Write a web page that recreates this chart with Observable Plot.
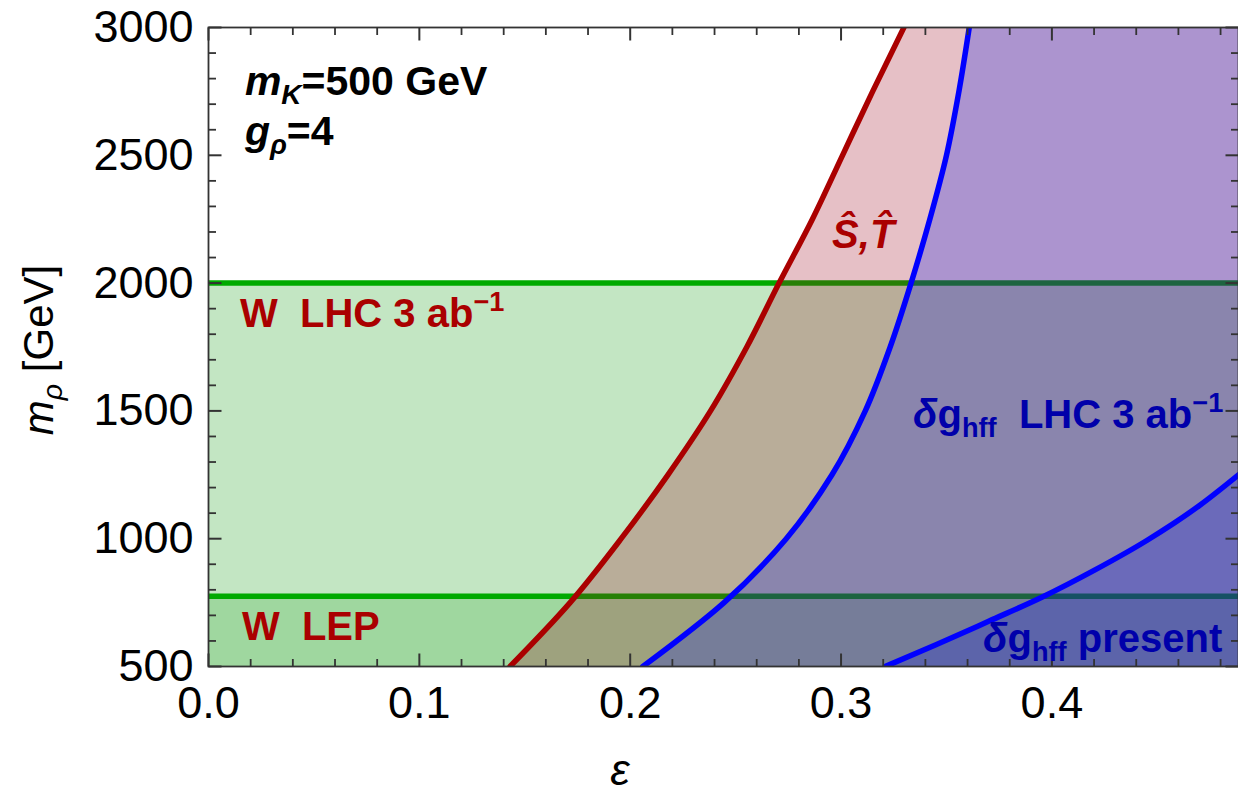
<!DOCTYPE html>
<html>
<head>
<meta charset="utf-8">
<script src="https://cdn.jsdelivr.net/npm/d3@7"></script>
<script src="https://cdn.jsdelivr.net/npm/@observablehq/plot@0.6"></script>
<style>
  html, body { margin: 0; padding: 0; background: #fff; }
  #chart { width: 1238px; height: 800px; }
  svg { font-family: "Liberation Sans", Arial, Helvetica, sans-serif; }
</style>
</head>
<body>
<div id="chart"></div>
<script>
// ---------- data ----------
const epsDomain = [0, 0.4885];
const mDomain = [500, 3000];
const xMajor = [0, 0.1, 0.2, 0.3, 0.4];
const xMinor = [0.02, 0.04, 0.06, 0.08, 0.12, 0.14, 0.16, 0.18, 0.22, 0.24, 0.26, 0.28, 0.32, 0.34, 0.36, 0.38, 0.42, 0.44, 0.46, 0.48];
const yMajor = [500, 1000, 1500, 2000, 2500, 3000];
const yMinor = [600, 700, 800, 900, 1100, 1200, 1300, 1400, 1600, 1700, 1800, 1900, 2100, 2200, 2300, 2400, 2600, 2700, 2800, 2900];

// m_rho grid (GeV) for the two curves given as eps(m)
const mGrid = [500, 750, 1000, 1250, 1500, 1750, 2000, 2250, 2500, 2750, 3000];
// S,T bound (red)
const stEps = [0.143, 0.1715, 0.1957, 0.2179, 0.2381, 0.2553, 0.2706, 0.2864, 0.3007, 0.3150, 0.3298];
// delta g_hff LHC 3 ab^-1 (blue)
const hffLhcEps = [0.206, 0.2445, 0.274, 0.2957, 0.3115, 0.3233, 0.3332, 0.3421, 0.350, 0.3559, 0.3608];
// delta g_hff present (blue), given as m(eps)
const hffPresentEps = [0.321, 0.345, 0.370, 0.395, 0.420, 0.445, 0.470, 0.4885];
const hffPresentM = [500, 585, 677, 770, 876, 993, 1130, 1250];
// W-parameter bounds (green)
const wLhcBound = 2000;
const wLepBound = 775;

const stData = mGrid.map((m, i) => ({m, eps: stEps[i]}));
const lhcData = mGrid.map((m, i) => ({m, eps: hffLhcEps[i]}));
const presData = hffPresentEps.map((e, i) => ({eps: e, m: hffPresentM[i]}));

// annotations: [eps, m] anchor (start, baseline), size and rich-text parts
const annotations = [
  {at: [0.0175, 2734], size: 41, color: "black", parts: [{t: "m", i: true}, {t: "K", i: true, sub: true}, {t: "=500 GeV"}]},
  {at: [0.0175, 2540], size: 41, color: "black", parts: [{t: "g", i: true}, {t: "ρ", i: true, sub: true}, {t: "=4"}]},
  {at: [0.296, 2135], size: 40, color: "red", parts: [{t: "Ŝ,T\u0302", i: true}]},
  {at: [0.0152, 1826], size: 40, color: "red", parts: [{t: "W  LHC 3 ab"}, {t: "−1", sup: true}]},
  {at: [0.0161, 602], size: 40, color: "red", parts: [{t: "W  LEP"}]},
  {at: [0.3344, 1431], size: 40, color: "blue", parts: [{t: "δ", i: true}, {t: "g"}, {t: "hff", sub: true}, {t: "  LHC 3 ab"}, {t: "−1", sup: true}]},
  {at: [0.3676, 555], size: 40, color: "blue", parts: [{t: "δ", i: true}, {t: "g"}, {t: "hff", sub: true}, {t: " present"}]}
];

// ---------- style ----------
const W = 1238, H = 800;
const mL = 208, mR = 0, mT = 27, mB = 134;
const plotW = W - mL - mR, plotH = H - mT - mB;
const C = {
  greenFill: "#0f9b0f", green: "#00aa00",
  redFill: "#9b031b", red: "#aa0000", redText: "#aa0000",
  blueFill: "#000eea", blue: "#0000ff", blueText: "#0000aa",
  frame: "#333333"
};
const FONT = '"Liberation Sans", Arial, Helvetica, sans-serif';
const majorPx = 13, minorPx = 7.5;
const yPerPx = (mDomain[1] - mDomain[0]) / plotH;
const xPerPx = (epsDomain[1] - epsDomain[0]) / plotW;

function xTicks(values, px, w) {
  const len = px * yPerPx;
  const lo = values.map(v => ({x: v, y1: mDomain[0], y2: mDomain[0] + len}));
  const hi = values.map(v => ({x: v, y1: mDomain[1] - len, y2: mDomain[1]}));
  return [
    Plot.link(lo, {x1: "x", x2: "x", y1: "y1", y2: "y2", stroke: C.frame, strokeWidth: w}),
    Plot.link(hi, {x1: "x", x2: "x", y1: "y1", y2: "y2", stroke: C.frame, strokeWidth: w})
  ];
}
function yTicks(values, px, w) {
  const len = px * xPerPx;
  const lo = values.map(v => ({y: v, x1: epsDomain[0], x2: epsDomain[0] + len}));
  const hi = values.map(v => ({y: v, x1: epsDomain[1] - len, x2: epsDomain[1]}));
  return [
    Plot.link(lo, {y1: "y", y2: "y", x1: "x1", x2: "x2", stroke: C.frame, strokeWidth: w}),
    Plot.link(hi, {y1: "y", y2: "y", x1: "x1", x2: "x2", stroke: C.frame, strokeWidth: w})
  ];
}

const plot = Plot.plot({
  width: W, height: H,
  marginLeft: mL, marginRight: mR, marginTop: mT, marginBottom: mB,
  x: {domain: epsDomain, label: null},
  y: {domain: mDomain, label: null},
  style: {fontFamily: FONT, background: "white", overflow: "visible"},
  marks: [
    Plot.rect([wLhcBound], {x1: () => epsDomain[0], x2: () => epsDomain[1], y1: () => mDomain[0], y2: d => d, fill: C.greenFill, fillOpacity: 0.25}),
    Plot.rect([wLepBound], {x1: () => epsDomain[0], x2: () => epsDomain[1], y1: () => mDomain[0], y2: d => d, fill: C.greenFill, fillOpacity: 0.2}),
    Plot.ruleY([wLhcBound, wLepBound], {stroke: C.green, strokeWidth: 5.5}),
    Plot.areaX(stData, {y: "m", x1: "eps", x2: () => epsDomain[1], fill: C.redFill, fillOpacity: 0.25, curve: "monotone-y", clip: true}),
    Plot.areaX(lhcData, {y: "m", x1: "eps", x2: () => epsDomain[1], fill: C.blueFill, fillOpacity: 0.25, curve: "monotone-y", clip: true}),
    Plot.areaY(presData, {x: "eps", y1: () => mDomain[0], y2: "m", fill: C.blueFill, fillOpacity: 0.22, curve: "monotone-x", clip: true}),
    Plot.line(stData, {x: "eps", y: "m", stroke: C.red, strokeWidth: 5.5, curve: "monotone-y", clip: true}),
    Plot.line(lhcData, {x: "eps", y: "m", stroke: C.blue, strokeWidth: 5.5, curve: "monotone-y", clip: true}),
    Plot.line(presData, {x: "eps", y: "m", stroke: C.blue, strokeWidth: 5.5, curve: "monotone-x", clip: true}),
    Plot.frame({stroke: C.frame, strokeWidth: 1.8}),
    ...xTicks(xMajor, majorPx, 2),
    ...xTicks(xMinor, minorPx, 1.8),
    ...yTicks(yMajor, majorPx, 2),
    ...yTicks(yMinor, minorPx, 1.8),
    Plot.axisX({anchor: "bottom", ticks: xMajor, tickSize: 0, tickPadding: 20, fontSize: 45, tickFormat: d3.format(".1f"), label: null, fill: "black"}),
    Plot.axisY({anchor: "left", ticks: yMajor, tickSize: 0, tickPadding: 15, fontSize: 45, tickFormat: d => String(d), label: null, fill: "black"})
  ]
});

document.getElementById("chart").appendChild(plot);

// ---------- rich text annotations ----------
const sx = plot.scale("x"), sy = plot.scale("y");
const svg = d3.select(plot);
const colorOf = {black: "#000", red: C.redText, blue: C.blueText};

function richText(sel, parts, size) {
  let shift = 0;
  for (const p of parts) {
    const target = p.sub ? size * 0.22 : p.sup ? -size * 0.4 : 0;
    const fs = (p.sub || p.sup) ? size * 0.68 : size;
    const ts = sel.append("tspan").text(p.t)
      .attr("font-size", fs)
      .attr("dy", target - shift);
    if (p.i) ts.attr("font-style", "italic");
    shift = target;
  }
}

const g = svg.append("g").attr("font-family", FONT).attr("text-anchor", "start");
for (const a of annotations) {
  const t = g.append("text")
    .attr("x", sx.apply(a.at[0]))
    .attr("y", sy.apply(a.at[1]))
    .attr("text-anchor", "start")
    .attr("fill", colorOf[a.color])
    .attr("font-weight", "bold")
    .attr("font-size", a.size);
  richText(t, a.parts, a.size);
}

// axis titles
const yl = g.append("text")
  .attr("transform", "translate(53,350) rotate(-90)")
  .attr("text-anchor", "middle")
  .attr("font-size", 42)
  .attr("fill", "#000");
richText(yl, [{t: "m", i: true}, {t: "ρ", i: true, sub: true}, {t: " [GeV]"}], 42);

g.append("text")
  .attr("x", 620)
  .attr("y", 785)
  .attr("text-anchor", "middle")
  .attr("font-size", 44)
  .attr("font-style", "italic")
  .attr("fill", "#000")
  .text("ε");
</script>
</body>
</html>
